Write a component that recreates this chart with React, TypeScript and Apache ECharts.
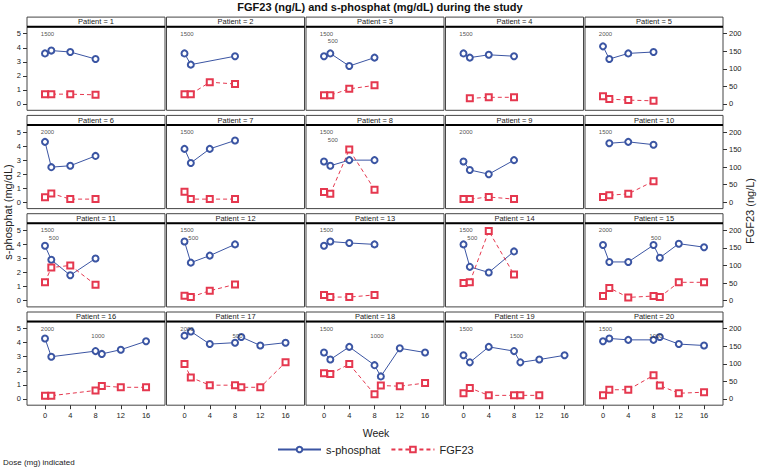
import React, { useEffect, useRef } from 'react';
import * as echarts from 'echarts';

// ---------- data ----------
const PATIENTS = [1, 2, 3, 4, 5, 6, 7, 8, 9, 10, 11, 12, 13, 14, 15, 16, 17, 18, 19, 20];

const PHOS_WEEKS = [
  [0, 1, 4, 8], [0, 1, 8], [0, 1, 4, 8], [0, 1, 4, 8], [0, 1, 4, 8],
  [0, 1, 4, 8], [0, 1, 4, 8], [0, 1, 4, 8], [0, 1, 4, 8], [1, 4, 8],
  [0, 1, 4, 8], [0, 1, 4, 8], [0, 1, 4, 8], [0, 1, 4, 8], [0, 1, 4, 8, 9, 12, 16],
  [0, 1, 8, 9, 12, 16], [0, 1, 4, 8, 9, 12, 16], [0, 1, 4, 8, 9, 12, 16], [0, 1, 4, 8, 9, 12, 16], [0, 1, 4, 8, 9, 12, 16],
];
const PHOS_VALUES = [
  [3.6, 3.8, 3.7, 3.2], [3.6, 2.8, 3.4], [3.4, 3.6, 2.7, 3.3], [3.6, 3.3, 3.5, 3.4], [4.1, 3.2, 3.6, 3.7],
  [4.3, 2.5, 2.6, 3.3], [3.8, 2.8, 3.8, 4.4], [2.9, 2.6, 3.0, 3.0], [2.9, 2.3, 2.0, 3.0], [4.2, 4.3, 4.1],
  [3.9, 2.9, 1.8, 3.0], [4.2, 2.7, 3.2, 4.0], [3.9, 4.2, 4.1, 4.0], [4.0, 2.4, 2.0, 3.5], [3.95, 2.75, 2.75, 3.95, 3.05, 4.05, 3.8],
  [4.3, 3.0, 3.4, 3.2, 3.5, 4.1], [4.5, 4.8, 3.9, 4.0, 4.4, 3.8, 4.0], [3.3, 2.8, 3.7, 2.4, 1.6, 3.6, 3.3], [3.1, 2.6, 3.7, 3.4, 2.6, 2.8, 3.1], [4.1, 4.3, 4.2, 4.2, 4.4, 3.9, 3.8],
];

const FGF_WEEKS = [
  [0, 1, 4, 8], [0, 1, 4, 8], [0, 1, 4, 8], [1, 4, 8], [0, 1, 4, 8],
  [0, 1, 4, 8], [0, 1, 4, 8], [0, 1, 4, 8], [0, 1, 4, 8], [0, 1, 4, 8],
  [0, 1, 4, 8], [0, 1, 4, 8], [0, 1, 4, 8], [0, 1, 4, 8], [0, 1, 4, 8, 9, 12, 16],
  [0, 1, 8, 9, 12, 16], [0, 1, 4, 8, 9, 12, 16], [0, 1, 4, 8, 9, 12, 16], [0, 1, 4, 8, 9, 12], [0, 1, 4, 8, 9, 12, 16],
];
const FGF_VALUES = [
  [28, 28, 28, 26], [28, 28, 62, 57], [25, 25, 43, 53], [16, 19, 19], [22, 14, 11, 9],
  [14, 25, 9, 9], [30, 9, 9, 9], [29, 24, 150, 36], [9, 9, 15, 9], [15, 20, 24, 60],
  [52, 94, 100, 45], [14, 10, 28, 46], [16, 10, 10, 16], [50, 52, 198, 74], [13, 36, 9, 13, 10, 52, 52],
  [9, 9, 24, 37, 33, 33], [99, 61, 39, 39, 33, 33, 104], [73, 71, 99, 13, 38, 36, 45], [16, 31, 10, 10, 10, 10], [10, 26, 26, 67, 38, 16, 19],
];

const DOSE_WEEKS = [
  [0], [0], [0, 1], [0], [0],
  [0], [0], [0, 1], [0], [0],
  [0, 1], [0, 1], [0], [0, 1], [0, 8],
  [0, 8], [0, 8], [0, 8], [0, 8], [0, 8],
];
const DOSE_MG = [
  [1500], [1500], [1500, 500], [1500], [2000],
  [2000], [1500], [1500, 500], [2000], [1500],
  [1500, 500], [1500, 500], [1500], [1500, 500], [2000, 500],
  [2000, 1000], [2000, 500], [1500, 1000], [1500, 1500], [1500, 1000],
];

const WEEK_TICKS = [0, 4, 8, 12, 16];
const PHOS_TICKS = [0, 1, 2, 3, 4, 5];
const FGF_TICKS = [0, 50, 100, 150, 200];

// ---------- styles ----------
const FONT = 'Liberation Sans, Arial, Helvetica, sans-serif';
const BLUE = '#3B55A3';
const RED = '#E5384F';
const FRAME = '#454545';
const TXT = '#222';

function buildOption() {
  const grids: any[] = [];
  const xAxes: any[] = [];
  const yAxes: any[] = [];
  const series: any[] = [];
  const graphics: any[] = [];

  const W = 138;
  const H = 83.6;
  const HEAD = 9.6;

  PATIENTS.forEach((p, i) => {
    const r = Math.floor(i / 5);
    const c = i % 5;
    const left = 27 + c * 139.5;
    const top = 26.7 + r * 98.3;

    grids.push({
      left, top, width: W, height: H,
      show: true, borderColor: FRAME, borderWidth: 1, backgroundColor: 'transparent',
      containLabel: false,
    });

    xAxes.push({
      type: 'value', gridIndex: i, min: -2.85, max: 19,
      axisLine: { show: false, onZero: false }, splitLine: { show: false },
      axisTick: { show: r === 3, length: 4, customValues: WEEK_TICKS, lineStyle: { color: '#333' } },
      axisLabel: { show: r === 3, customValues: WEEK_TICKS, margin: 6, fontSize: 7.5, color: TXT, fontFamily: FONT },
    });

    yAxes.push({
      type: 'value', gridIndex: i, position: 'left', min: -0.45, max: 5.5,
      axisLine: { show: false, onZero: false }, splitLine: { show: false },
      axisTick: { show: c === 0, length: 4, customValues: PHOS_TICKS, lineStyle: { color: '#333' } },
      axisLabel: { show: c === 0, customValues: PHOS_TICKS, margin: 6, fontSize: 7.5, color: TXT, fontFamily: FONT },
    });
    yAxes.push({
      type: 'value', gridIndex: i, position: 'right', min: -18, max: 220,
      axisLine: { show: false, onZero: false }, splitLine: { show: false },
      axisTick: { show: c === 4, length: 4, customValues: FGF_TICKS, lineStyle: { color: '#333' } },
      axisLabel: { show: c === 4, customValues: FGF_TICKS, margin: 6, fontSize: 7.5, color: TXT, fontFamily: FONT },
    });

    series.push({
      type: 'line', name: 's-phosphat', xAxisIndex: i, yAxisIndex: 2 * i,
      data: PHOS_WEEKS[i].map((w, k) => [w, PHOS_VALUES[i][k]]),
      symbol: 'emptyCircle', symbolSize: 6,
      lineStyle: { color: BLUE, width: 1 },
      itemStyle: { color: BLUE, borderColor: BLUE, borderWidth: 1 },
      z: 3,
    });
    series.push({
      type: 'line', name: 'FGF23', xAxisIndex: i, yAxisIndex: 2 * i + 1,
      data: FGF_WEEKS[i].map((w, k) => [w, FGF_VALUES[i][k]]),
      symbol: 'emptyRect', symbolSize: 6,
      lineStyle: { color: RED, width: 1, type: [4, 3] },
      itemStyle: { color: RED, borderColor: RED, borderWidth: 1 },
      z: 3,
    });
    series.push({
      type: 'scatter', name: 'dose', xAxisIndex: i, yAxisIndex: 2 * i, silent: true,
      symbolSize: 0.1,
      itemStyle: { color: 'transparent' },
      data: DOSE_WEEKS[i].map((w, k) => ({
        value: [w, k === 0 ? 5.0 : 4.45],
        label: { formatter: String(DOSE_MG[i][k]) },
      })),
      label: { show: true, position: 'inside', fontSize: 6, color: TXT, fontFamily: FONT, offset: [2.5, 0] },
      z: 4,
    });

    graphics.push({
      type: 'rect',
      shape: { x: left, y: top - HEAD, width: W, height: HEAD },
      style: { fill: '#fff', stroke: FRAME, lineWidth: 1 },
      silent: true,
    });
    graphics.push({
      type: 'line',
      shape: { x1: left, y1: top, x2: left + W, y2: top },
      style: { stroke: '#000', lineWidth: 2 },
      silent: true,
    });
    graphics.push({
      type: 'text',
      x: left + W / 2, y: top - HEAD / 2,
      style: {
        text: `Patient = ${p}`, fontSize: 7.5, fontFamily: FONT, fill: TXT,
        align: 'center', verticalAlign: 'middle', textAlign: 'center', textVerticalAlign: 'middle',
      },
      silent: true,
    });
  });

  graphics.push({
    type: 'text', x: 8, y: 212, rotation: Math.PI / 2,
    style: { text: 's-phosphat (mg/dL)', fontSize: 11, fontFamily: FONT, fill: TXT, align: 'center', verticalAlign: 'middle', textAlign: 'center', textVerticalAlign: 'middle' },
    silent: true,
  });
  graphics.push({
    type: 'text', x: 750, y: 211, rotation: Math.PI / 2,
    style: { text: 'FGF23 (ng/L)', fontSize: 11, fontFamily: FONT, fill: TXT, align: 'center', verticalAlign: 'middle', textAlign: 'center', textVerticalAlign: 'middle' },
    silent: true,
  });
  graphics.push({
    type: 'text', x: 376, y: 433,
    style: { text: 'Week', fontSize: 10.5, fontFamily: FONT, fill: TXT, align: 'center', verticalAlign: 'middle', textAlign: 'center', textVerticalAlign: 'middle' },
    silent: true,
  });
  graphics.push({
    type: 'text', x: 3, y: 462,
    style: { text: 'Dose (mg) indicated', fontSize: 8, fontFamily: FONT, fill: TXT, align: 'left', verticalAlign: 'middle', textAlign: 'left', textVerticalAlign: 'middle' },
    silent: true,
  });

  return {
    animation: false,
    backgroundColor: '#fff',
    title: {
      text: 'FGF23 (ng/L) and s-phosphat (mg/dL) during the study',
      left: 'center', top: 0, padding: [1, 0, 0, 0],
      textStyle: { fontSize: 11, fontWeight: 'bold', fontFamily: FONT, color: '#111' },
    },
    legend: {
      data: ['s-phosphat', 'FGF23'],
      left: 277, top: 444, padding: 0,
      itemWidth: 43, itemHeight: 7, itemGap: 10,
      textStyle: { fontSize: 11, fontFamily: FONT, color: TXT },
    },
    grid: grids,
    xAxis: xAxes,
    yAxis: yAxes,
    series,
    graphic: graphics,
  };
}

export default function App() {
  const ref = useRef<HTMLDivElement>(null);
  useEffect(() => {
    if (!ref.current) return;
    const chart = echarts.init(ref.current, undefined, { renderer: 'svg' });
    chart.setOption(buildOption() as any);
    return () => chart.dispose();
  }, []);
  return (
    <div
      ref={ref}
      style={{ position: 'fixed', left: 0, top: 0, width: 760, height: 468, background: '#fff' }}
    />
  );
}
